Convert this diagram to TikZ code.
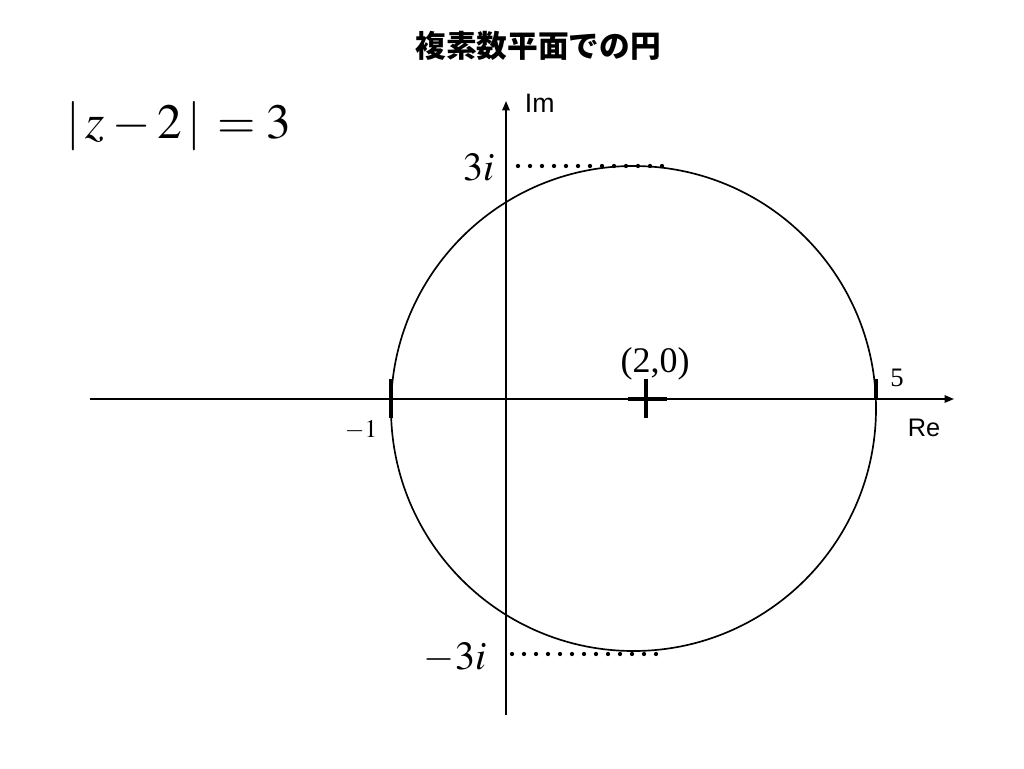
\documentclass[tikz,border=0pt]{standalone}
\usepackage{mathptmx}
\usepackage[no-math]{fontspec}
\setmainfont{Liberation Serif}
\newfontfamily\sansjp{Noto Sans CJK JP}
\newfontfamily\sanslat{Liberation Sans}
\usetikzlibrary{arrows.meta}

\begin{document}
\begin{tikzpicture}[x=0.75pt,y=-0.75pt,line width=1.25pt,
    axis/.style={-{Triangle[length=7pt,width=5.5pt]}},
    guide/.style={line width=3.2pt,line cap=round,dash pattern=on 0pt off 9pt},
    tickmark/.style={line width=2.3pt}]
        \useasboundingbox (0,0) rectangle (1024,768);
        \node (title) at (538,46) {\sansjp\bfseries\fontsize{23}{27}\selectfont 複素数平面での円};
        \node[anchor=base west,inner sep=0pt] (eqn) at (66,138) {\fontsize{37}{43}\selectfont $|\,z-2\,|\,=3$};
        \coordinate (xl) at (90,399);
        \coordinate (xr) at (954,399);
        \coordinate (yb) at (506,715);
        \coordinate (yt) at (506,101);
        \coordinate (o) at (633.5,408.5);
        \draw[axis] (xl) -- (xr);
        \draw[axis] (yb) -- (yt);
        \node[anchor=base west,inner sep=0pt] (im) at (524,112) {\sanslat\fontsize{20}{24}\selectfont Im};
        \node[anchor=base west,inner sep=0pt] (re) at (907,436) {\sanslat\fontsize{19}{22}\selectfont Re};
        \draw (o) circle [radius=242.5];
        % guides for the top and the bottom of the circle
        \coordinate (ta) at (518,166);
        \coordinate (tb) at (663,166);
        \coordinate (ba) at (512,654);
        \coordinate (bb) at (657,654);
        \draw[guide] (ta) -- (tb);
        \draw[guide] (ba) -- (bb);
        \node[anchor=base east,inner sep=0pt] (three) at (495,180) {\fontsize{30}{36}\selectfont $3i$};
        \node[anchor=base east,inner sep=0pt] (mthree) at (487,669) {\fontsize{30}{36}\selectfont $-3i$};
        % ticks at -1 and 5
        \draw[tickmark] (391,379) -- (391,418);
        \draw[tickmark] (876,379) -- (876,400);
        \node[anchor=base east,inner sep=0pt] (mone) at (378,437) {\fontsize{19}{22}\selectfont $-1$};
        \node[anchor=base,inner sep=0pt] (five) at (897,386) {\fontsize{20}{24}\selectfont 5};
        % centre mark
        \draw[line width=3.2pt] (628,399) -- (667,399);
        \draw[line width=3.2pt] (646,379) -- (646,418);
        \node[anchor=base,inner sep=0pt] (ctr) at (655,372) {\fontsize{27}{32}\selectfont (2,0)};
    \end{tikzpicture}
\end{document}
